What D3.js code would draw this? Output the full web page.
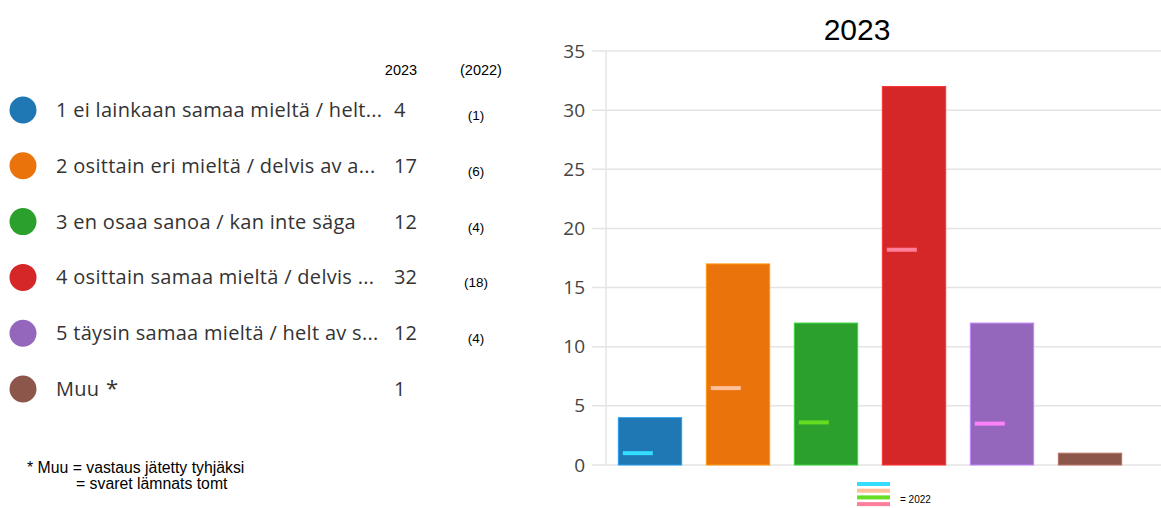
<!DOCTYPE html>
<html>
<head>
<meta charset="utf-8">
<script src="https://cdn.jsdelivr.net/npm/d3@7"></script>
<style>
  html, body { margin: 0; padding: 0; background: #fff; }
  svg { display: block; }
</style>
</head>
<body>
<svg id="chart" width="1161" height="508"></svg>
<script>
// data
const labels = [
  "1 ei lainkaan samaa mieltä / helt...",
  "2 osittain eri mieltä / delvis av a...",
  "3 en osaa sanoa / kan inte säga",
  "4 osittain samaa mieltä / delvis ...",
  "5 täysin samaa mieltä / helt av s...",
  "Muu"
];
const values2023 = [4, 17, 12, 32, 12, 1];
const text2022 = ["(1)", "(6)", "(4)", "(18)", "(4)", ""];
// where the 2022 marks sit on the bars (hand placed in the original)
const marks2022 = [1, 6.5, 3.6, 18.2, 3.5];
const yTicks = [0, 5, 10, 15, 20, 25, 30, 35];

const barColors = ["#1f77b4", "#eb730c", "#2ca02c", "#d62728", "#9467bd", "#8c564b"];
const markColors = ["#33ddff", "#ffbf99", "#66dd22", "#ff7f9a", "#ff80f8"];

const svg = d3.select("#chart");
const uiFont = "'Open Sans', 'Noto Sans', sans-serif";
const arial = "'Liberation Sans', Arial, sans-serif";

//
// Bar chart
//
const x = d3.scaleBand()
    .domain(d3.range(labels.length))
    .range([606, 1134])
    .paddingInner(0.28)
    .paddingOuter(0.14);

const y = d3.scaleLinear().domain([0, 35]).range([465, 51]);

// gridlines
svg.append("g")
  .selectAll("line")
  .data(yTicks)
  .join("line")
    .attr("x1", 592).attr("x2", 1161)
    .attr("y1", d => y(d)).attr("y2", d => y(d))
    .attr("stroke", "#e4e4e4")
    .attr("stroke-width", 1.5);

svg.append("line")
    .attr("x1", 606).attr("x2", 606)
    .attr("y1", y(35)).attr("y2", y(0))
    .attr("stroke", "#e4e4e4")
    .attr("stroke-width", 1.5);

const yAxis = svg.append("g")
    .attr("transform", "translate(592,0)")
    .call(d3.axisLeft(y).tickValues(yTicks).tickSize(0).tickPadding(7));
yAxis.select(".domain").remove();
yAxis.selectAll("text")
    .attr("font-family", uiFont)
    .attr("font-size", 19)
    .attr("fill", "#444");

// bars
svg.append("g")
  .selectAll("rect")
  .data(values2023)
  .join("rect")
    .attr("x", (d, i) => x(i))
    .attr("y", d => y(d))
    .attr("width", x.bandwidth())
    .attr("height", d => y(0) - y(d))
    .attr("fill", (d, i) => barColors[i])
    .attr("stroke", (d, i) => d3.color(barColors[i]).brighter(0.8))
    .attr("stroke-width", 1);

// 2022 marks
svg.append("g")
  .selectAll("rect")
  .data(marks2022)
  .join("rect")
    .attr("x", (d, i) => x(i) + 4.5)
    .attr("y", d => y(d) - 2)
    .attr("width", 30)
    .attr("height", 4)
    .attr("fill", (d, i) => markColors[i]);

// title
svg.append("text")
    .attr("x", 857).attr("y", 40)
    .attr("text-anchor", "middle")
    .attr("font-family", arial)
    .attr("font-size", 30)
    .attr("fill", "#000")
    .text("2023");

// small key under the chart
const key = svg.append("g");
key.selectAll("rect")
  .data(markColors.slice(0, 4))
  .join("rect")
    .attr("x", 857)
    .attr("y", (d, i) => 484 + i * 6.7 - 2)
    .attr("width", 33)
    .attr("height", 4)
    .attr("fill", d => d);
key.append("text")
    .attr("x", 900).attr("y", 503)
    .attr("font-family", arial)
    .attr("font-size", 10)
    .attr("fill", "#000")
    .text("= 2022");

//
// Legend table on the left
//
const rowY = d3.scaleLinear().domain([0, 5]).range([110, 389]);

svg.append("text")
    .attr("x", 401).attr("y", 75)
    .attr("text-anchor", "middle")
    .attr("font-family", arial).attr("font-size", 14.5)
    .text("2023");
svg.append("text")
    .attr("x", 481).attr("y", 75)
    .attr("text-anchor", "middle")
    .attr("font-family", arial).attr("font-size", 14.5)
    .text("(2022)");

const rows = svg.append("g")
  .selectAll("g")
  .data(labels)
  .join("g")
    .attr("transform", (d, i) => `translate(0,${rowY(i)})`);

rows.append("circle")
    .attr("cx", 23).attr("cy", 0).attr("r", 13.5)
    .attr("fill", (d, i) => barColors[i]);

rows.append("text")
    .attr("x", 56).attr("y", 7)
    .attr("font-family", uiFont)
    .attr("font-size", 20)
    .attr("letter-spacing", 0.3)
    .attr("fill", "#333")
    .text(d => d);

rows.filter((d, i) => i === labels.length - 1)
  .append("text")
    .attr("x", 106).attr("y", 7)
    .attr("font-family", uiFont)
    .attr("font-size", 22)
    .attr("fill", "#333")
    .text("*");

rows.append("text")
    .attr("x", 394).attr("y", 7)
    .attr("font-family", uiFont)
    .attr("font-size", 20)
    .attr("fill", "#333")
    .text((d, i) => values2023[i]);

rows.append("text")
    .attr("x", 476).attr("y", 10)
    .attr("text-anchor", "middle")
    .attr("font-family", arial)
    .attr("font-size", 13.5)
    .attr("fill", "#000")
    .text((d, i) => text2022[i]);

// footnote
svg.append("text")
    .attr("x", 27).attr("y", 473)
    .attr("font-family", arial).attr("font-size", 15.8)
    .text("* Muu = vastaus jätetty tyhjäksi");
svg.append("text")
    .attr("x", 76).attr("y", 489)
    .attr("font-family", arial).attr("font-size", 15.8)
    .text("= svaret lämnats tomt");
</script>
</body>
</html>
